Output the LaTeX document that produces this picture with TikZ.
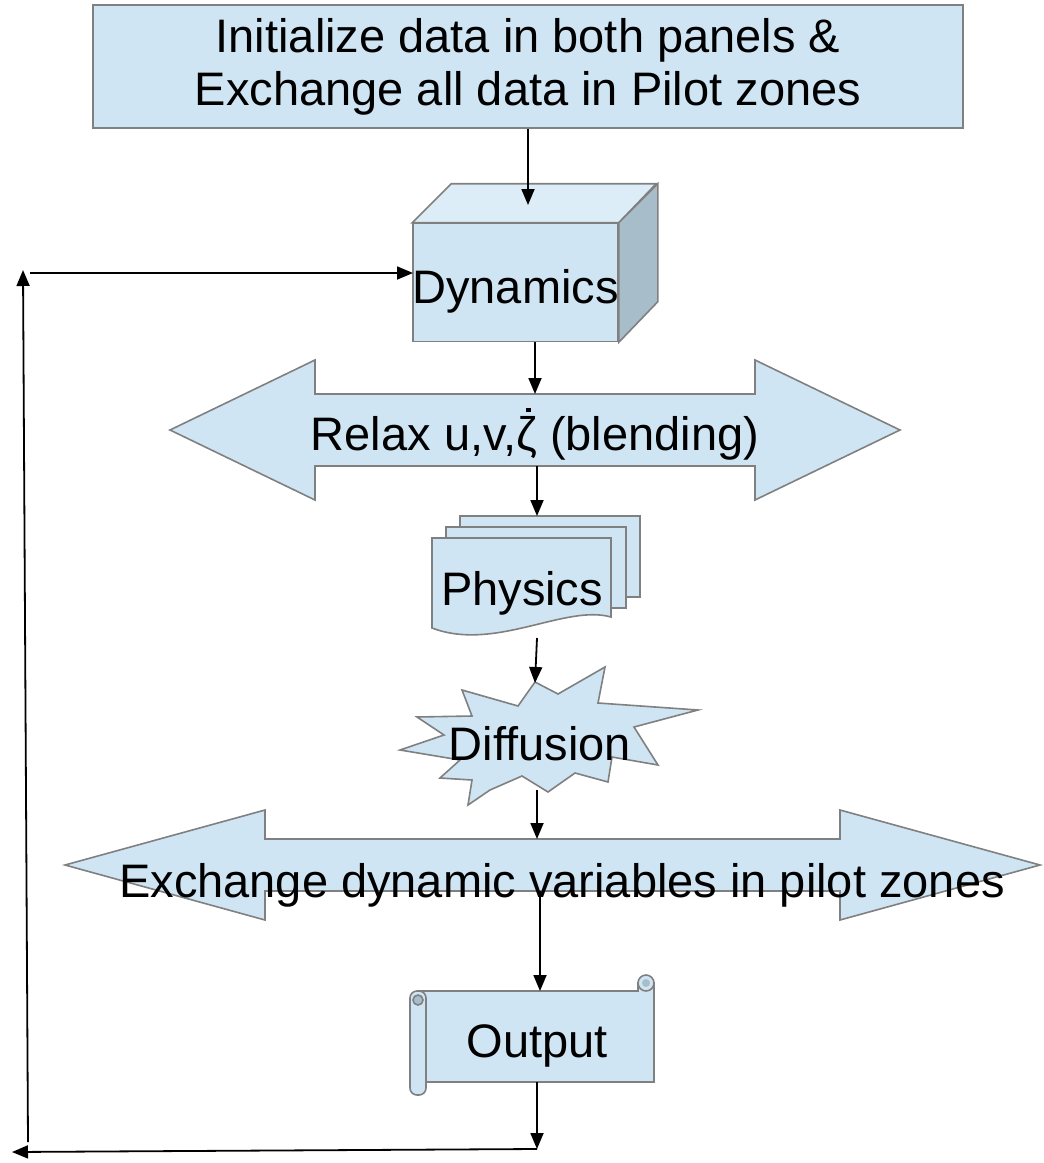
\documentclass[tikz,border=0pt]{standalone}
\usepackage{fontspec}
\setmainfont{Liberation Sans}
\usepackage{tikz}
\usetikzlibrary{arrows.meta}
\definecolor{boxblue}{HTML}{CFE5F3}
\definecolor{lidblue}{HTML}{DCEDF8}
\definecolor{sideblue}{HTML}{A7BDCA}
\definecolor{edgegray}{HTML}{808080}
\tikzset{
  shapeline/.style={draw=edgegray, line width=1.6pt, fill=boxblue},
  bigtext/.style={font=\fontsize{47}{53}\selectfont, inner sep=0pt},
  flow/.style={-{Triangle[length=16pt,width=13pt]}, line width=1.8pt},
}
% zeta with a dot on top
\newcommand{\zetadot}{\ooalign{ζ\cr\hidewidth\kern0.08em\raisebox{0.8em}{\rule{0.09em}{0.09em}}\hidewidth\cr}}
% double headed block arrow: cx, cy, half length, head length, half head, half shaft
\newcommand{\dblarrow}[6]{
  \draw[shapeline] ({#1-#3},#2) -- ({#1-#3+#4},{#2-#5}) -- ({#1-#3+#4},{#2-#6})
    -- ({#1+#3-#4},{#2-#6}) -- ({#1+#3-#4},{#2-#5}) -- ({#1+#3},#2)
    -- ({#1+#3-#4},{#2+#5}) -- ({#1+#3-#4},{#2+#6}) -- ({#1-#3+#4},{#2+#6})
    -- ({#1-#3+#4},{#2+#5}) -- cycle;
}
% one sheet of the stack behind the front page
\newcommand{\backsheet}[2]{
  \draw[shapeline] (#1,#2) rectangle ++(180,81);
}

\begin{document}
\begin{tikzpicture}[x=1pt, y=-1pt]
  \useasboundingbox (0,0) rectangle (1044,1163);

  % start box
  \node[shapeline, bigtext, minimum width=870pt, minimum height=123pt, align=center]
    (init) at (528,66.5) {Initialize data in both panels \&\\Exchange all data in Pilot zones};

  % dynamics cube
  \node[shapeline, bigtext, minimum width=205pt, minimum height=118pt] (dyn) at (515.5,282.5) {};
  \draw[shapeline, fill=lidblue] (dyn.north west) -- ++(39,-39) -- ++(205,0) -- (dyn.north east) -- cycle;
  \draw[shapeline, fill=sideblue] (dyn.north east) -- ++(39,-39) -- ++(0,118) -- (dyn.south east) -- cycle;
  \node[bigtext, anchor=base] (dyntext) at (515.5,303) {Dynamics};

  % relaxation
  \dblarrow{535}{430}{365}{145}{70}{36}
  \node[bigtext, anchor=base] (relax) at (535,450) {Relax u,v,\zetadot{} (blending)};

  % physics, a stack of pages
  \backsheet{460}{516}
  \backsheet{446}{527}
  \draw[shapeline] (432,538) -- (611,538) -- (611,617)
    .. controls (565,604) and (495,652) .. (432,628) -- cycle;
  \node[bigtext, anchor=base] (phys) at (522,605) {Physics};

  % diffusion burst
  \draw[shapeline] (535,682) -- (558,694) -- (605,667) -- (598,703) -- (698,710)
    -- (634,727) -- (658,765) -- (612,757) -- (608,782) -- (575,773) -- (548,792)
    -- (522,776) -- (490,790) -- (468,805) -- (472,780) -- (440,778) -- (460,760)
    -- (400,750) -- (444,735) -- (417,717) -- (472,716) -- (462,690) -- (518,706) -- cycle;
  \node[bigtext, anchor=base] (diff) at (540,760) {Diffusion};

  % pilot zone exchange
  \dblarrow{552.5}{865}{487.5}{200}{55}{26}
  \node[bigtext, anchor=base] (exch) at (562,897) {Exchange dynamic variables in pilot zones};

  % output scroll
  \draw[shapeline] (418,991) -- (638,991) -- (638,983) -- (654,983) -- (654,1082) -- (418,1082) -- cycle;
  \draw[shapeline] (646,983) circle (8);
  \fill[sideblue] (646,983) circle (4);
  \draw[shapeline, rounded corners=7pt] (410,991) rectangle (426,1095);
  \draw[shapeline, fill=sideblue] (418,1000) circle (5);
  \node[bigtext, anchor=base] (outp) at (537,1057) {Output};

  % ports for the connectors
  \coordinate (dynIn) at (528,205);
  \coordinate (dynB) at (535,342);
  \coordinate (dynW) at (413,273);
  \coordinate (relaxT) at (535,394);
  \coordinate (relaxB) at (537,466);
  \coordinate (physT) at (537,516);
  \coordinate (physB) at (537,638);
  \coordinate (diffT) at (535,683);
  \coordinate (diffB) at (537,790);
  \coordinate (exT) at (537,839);
  \coordinate (exB) at (540,891);
  \coordinate (outT) at (540,991);
  \coordinate (outB) at (537,1082);
  \coordinate (loopR) at (537,1149);
  \coordinate (loopL) at (12,1152);
  \coordinate (upB) at (28,1142);
  \coordinate (upT) at (23,270);
  \coordinate (backL) at (30,273);

  \draw[flow] (init.south) -- (dynIn);
  \draw[flow] (dynB) -- (relaxT);
  \draw[flow] (relaxB) -- (physT);
  \draw[flow] (physB) -- (diffT);
  \draw[flow] (diffB) -- (exT);
  \draw[flow] (exB) -- (outT);
  \draw[flow] (outB) -- (loopR);
  \draw[flow] (loopR) -- (loopL);
  \draw[flow] (upB) -- (upT);
  \draw[flow] (backL) -- (dynW);
\end{tikzpicture}
\end{document}
